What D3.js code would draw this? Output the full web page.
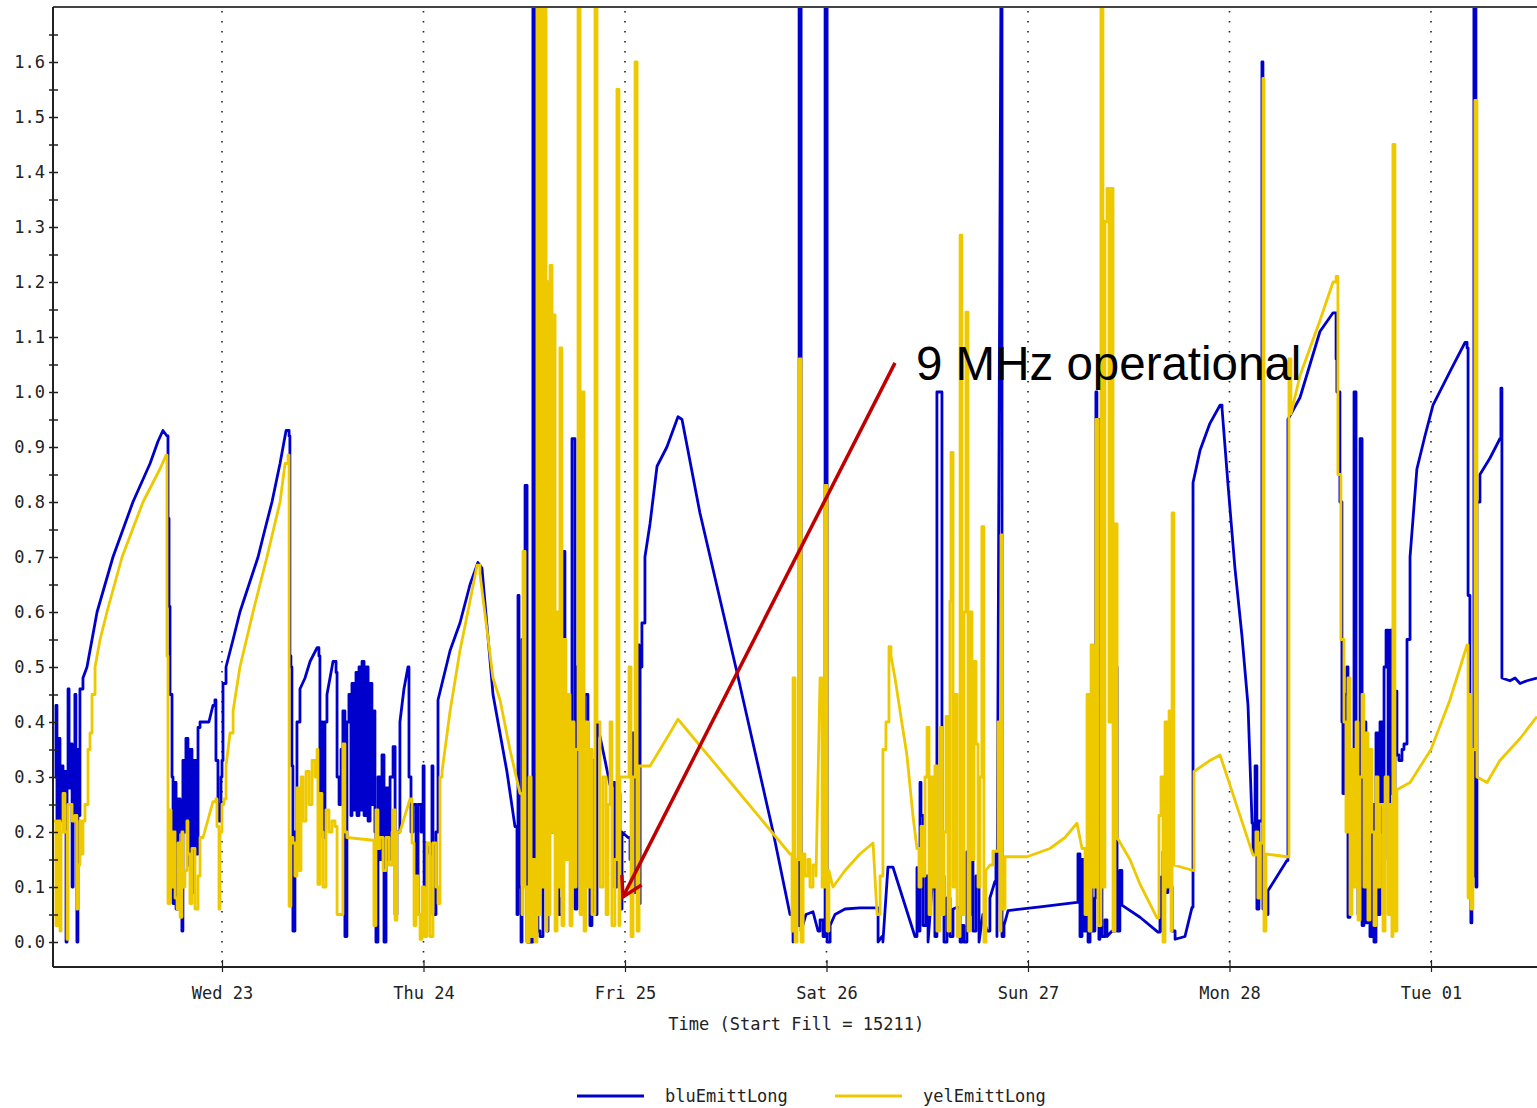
<!DOCTYPE html>
<html>
<head>
<meta charset="utf-8">
<script src="https://cdn.jsdelivr.net/npm/d3@7"></script>
<style>
  body { margin: 0; background: #fff; }
  svg text { font-family: "DejaVu Sans Mono", "Liberation Mono", monospace; }
</style>
</head>
<body>
<div id="chart"></div>
<script>
// [days since 2011-02-22 00:00 UTC, emittance]
const bluEmittLong = [
  [0.171,0.30],[0.176,0.43],[0.181,0.03],[0.186,0.37],[0.196,0.22],[0.201,0.32],[0.211,0.27],[0.216,0.31],
  [0.226,0.00],[0.231,0.30],[0.236,0.46],[0.241,0.28],[0.246,0.36],[0.256,0.10],[0.261,0.32],[0.270,0.45],
  [0.275,0.22],[0.280,0.00],[0.285,0.35],[0.290,0.23],[0.295,0.46],[0.310,0.48],[0.330,0.50],[0.380,0.60],
  [0.459,0.70],[0.558,0.80],[0.643,0.87],[0.682,0.91],[0.707,0.93],[0.727,0.92],[0.732,0.77],[0.737,0.61],
  [0.742,0.45],[0.752,0.30],[0.757,0.07],[0.767,0.29],[0.772,0.06],[0.782,0.26],[0.792,0.20],[0.801,0.02],
  [0.806,0.33],[0.816,0.20],[0.821,0.37],[0.831,0.14],[0.841,0.35],[0.851,0.09],[0.861,0.33],[0.871,0.16],
  [0.881,0.39],[0.891,0.40],[0.935,0.40],[0.955,0.43],[0.965,0.44],[0.970,0.33],[0.980,0.25],[0.985,0.22],
  [0.995,0.30],[1.000,0.33],[1.005,0.47],[1.020,0.50],[1.055,0.55],[1.089,0.60],[1.134,0.65],[1.179,0.70],
  [1.213,0.75],[1.248,0.80],[1.288,0.87],[1.318,0.93],[1.333,0.92],[1.337,0.52],[1.342,0.50],[1.347,0.32],
  [1.352,0.02],[1.362,0.20],[1.372,0.40],[1.387,0.46],[1.412,0.48],[1.437,0.51],[1.472,0.535],[1.481,0.52],
  [1.486,0.25],[1.496,0.40],[1.501,0.19],[1.511,0.40],[1.521,0.45],[1.551,0.51],[1.566,0.49],[1.571,0.30],
  [1.581,0.25],[1.591,0.35],[1.600,0.42],[1.610,0.01],[1.620,0.40],[1.630,0.45],[1.640,0.23],[1.645,0.47],
  [1.655,0.24],[1.665,0.49],[1.670,0.23],[1.680,0.50],[1.690,0.24],[1.695,0.51],[1.705,0.23],[1.715,0.50],
  [1.725,0.22],[1.735,0.47],[1.744,0.25],[1.754,0.42],[1.759,0.20],[1.764,0.00],[1.774,0.30],[1.784,0.15],
  [1.794,0.34],[1.804,0.00],[1.814,0.28],[1.824,0.15],[1.834,0.30],[1.849,0.355],[1.859,0.05],[1.868,0.20],
  [1.883,0.40],[1.903,0.46],[1.923,0.50],[1.928,0.30],[1.938,0.20],[1.948,0.25],[1.963,0.05],[1.973,0.25],
  [1.988,0.20],[1.998,0.32],[2.003,0.04],[2.012,0.18],[2.032,0.16],[2.042,0.32],[2.047,0.05],[2.062,0.20],
  [2.072,0.44],[2.092,0.47],[2.132,0.53],[2.181,0.58],[2.231,0.65],[2.270,0.69],[2.290,0.68],[2.345,0.45],
  [2.414,0.31],[2.454,0.21],[2.464,0.05],[2.469,0.63],[2.474,0.10],[2.484,0.00],[2.489,0.55],[2.494,0.15],
  [2.504,0.83],[2.514,0.00],[2.524,0.05],[2.534,0.00],[2.543,1.75],[2.553,0.05],[2.563,1.75],[2.568,0.02],
  [2.578,0.01],[2.593,1.75],[2.603,1.20],[2.613,0.02],[2.618,0.90],[2.628,0.20],[2.643,0.60],[2.653,0.34],
  [2.663,0.28],[2.672,0.05],[2.687,0.08],[2.692,0.71],[2.702,0.30],[2.712,0.42],[2.727,0.35],[2.737,0.915],
  [2.752,0.06],[2.762,0.50],[2.772,0.52],[2.787,0.30],[2.801,0.45],[2.816,0.28],[2.826,0.03],[2.836,0.33],
  [2.846,0.05],[2.861,0.40],[2.901,0.33],[2.926,0.285],[2.941,0.29],[2.950,0.10],[2.960,0.27],[2.975,0.06],
  [2.985,0.20],[3.015,0.19],[3.025,0.15],[3.035,0.38],[3.045,0.09],[3.060,0.54],[3.070,0.07],[3.075,0.50],
  [3.084,0.58],[3.099,0.70],[3.124,0.76],[3.159,0.865],[3.208,0.90],[3.263,0.955],[3.283,0.95],[3.372,0.78],
  [3.556,0.49],[3.735,0.20],[3.819,0.05],[3.834,0.00],[3.854,0.03],[3.864,1.75],[3.874,0.02],[3.898,0.05],
  [3.933,0.055],[3.958,0.02],[3.968,0.04],[3.983,0.01],[3.993,1.75],[4.003,0.00],[4.018,0.03],[4.042,0.05],
  [4.092,0.06],[4.166,0.062],[4.251,0.062],[4.256,0.00],[4.275,0.01],[4.280,0.00],[4.305,0.136],[4.330,0.136],
  [4.439,0.01],[4.449,0.135],[4.454,0.02],[4.464,0.29],[4.469,0.23],[4.479,0.03],[4.494,0.12],[4.504,0.00],
  [4.524,0.10],[4.538,0.01],[4.548,1.00],[4.568,1.00],[4.573,0.12],[4.583,0.00],[4.598,0.08],[4.613,0.01],
  [4.628,0.06],[4.648,0.063],[4.663,0.00],[4.672,0.03],[4.682,0.00],[4.697,0.164],[4.707,0.05],[4.717,0.15],
  [4.727,0.02],[4.742,0.12],[4.757,0.00],[4.776,0.05],[4.796,0.02],[4.811,0.08],[4.836,0.11],[4.841,0.164],
  [4.846,0.01],[4.866,1.75],[4.871,0.01],[4.881,0.03],[4.901,0.057],[5.060,0.064],[5.243,0.072],[5.248,0.16],
  [5.258,0.01],[5.268,0.15],[5.278,0.02],[5.288,0.164],[5.298,0.00],[5.308,0.12],[5.318,0.02],[5.332,0.08],
  [5.337,1.00],[5.342,0.95],[5.352,0.005],[5.357,0.78],[5.362,0.62],[5.367,0.01],[5.382,0.04],[5.392,0.01],
  [5.417,0.02],[5.432,0.14],[5.437,0.50],[5.442,0.02],[5.456,0.13],[5.466,0.067],[5.556,0.045],[5.645,0.018],
  [5.655,0.118],[5.665,0.02],[5.670,0.164],[5.680,0.09],[5.695,0.15],[5.705,0.10],[5.715,0.02],[5.730,0.005],
  [5.779,0.01],[5.814,0.063],[5.819,0.835],[5.854,0.894],[5.903,0.943],[5.953,0.976],[5.963,0.97],[5.993,0.83],
  [6.027,0.68],[6.062,0.556],[6.092,0.43],[6.112,0.216],[6.117,0.16],[6.127,0.32],[6.136,0.06],[6.146,0.22],
  [6.161,1.60],[6.166,0.06],[6.181,0.05],[6.191,0.093],[6.285,0.148],[6.290,0.95],[6.350,0.99],[6.449,1.11],
  [6.514,1.144],[6.529,1.06],[6.533,1.00],[6.548,0.80],[6.558,0.40],[6.563,0.27],[6.573,0.45],[6.583,0.50],
  [6.588,0.045],[6.598,0.35],[6.608,0.20],[6.618,1.00],[6.628,0.25],[6.638,0.05],[6.648,0.915],[6.658,0.03],
  [6.667,0.40],[6.677,0.035],[6.687,0.30],[6.697,0.01],[6.707,0.25],[6.717,0.00],[6.727,0.38],[6.737,0.05],
  [6.747,0.40],[6.757,0.20],[6.767,0.50],[6.777,0.567],[6.787,0.15],[6.796,0.567],[6.806,0.27],[6.821,0.456],
  [6.831,0.34],[6.841,0.33],[6.856,0.35],[6.866,0.36],[6.881,0.55],[6.896,0.70],[6.930,0.86],[6.970,0.92],
  [7.010,0.976],[7.094,1.037],[7.169,1.09],[7.179,1.08],[7.184,0.63],[7.193,0.30],[7.198,0.035],[7.203,0.12],
  [7.213,1.75],[7.223,0.10],[7.228,0.80],[7.243,0.85],[7.293,0.88],[7.342,0.915],[7.347,1.007],[7.352,0.48],
  [7.392,0.475],[7.417,0.48],[7.442,0.47],[7.476,0.475],[7.526,0.48]
];

const yelEmittLong = [
  [0.161,0.22],[0.171,0.22],[0.176,0.03],[0.186,0.22],[0.196,0.02],[0.201,0.20],[0.211,0.27],[0.221,0.20],
  [0.231,0.005],[0.236,0.25],[0.246,0.25],[0.256,0.22],[0.270,0.23],[0.280,0.06],[0.285,0.14],[0.295,0.22],
  [0.305,0.16],[0.310,0.22],[0.320,0.25],[0.335,0.35],[0.345,0.38],[0.355,0.45],[0.370,0.50],[0.395,0.55],
  [0.429,0.60],[0.504,0.70],[0.608,0.80],[0.692,0.86],[0.722,0.885],[0.727,0.52],[0.732,0.07],[0.742,0.24],
  [0.747,0.10],[0.757,0.20],[0.767,0.08],[0.777,0.06],[0.782,0.18],[0.792,0.045],[0.801,0.20],[0.806,0.10],
  [0.816,0.13],[0.826,0.22],[0.831,0.16],[0.841,0.07],[0.851,0.17],[0.866,0.06],[0.881,0.12],[0.891,0.19],
  [0.906,0.19],[0.955,0.255],[0.970,0.26],[0.975,0.21],[0.985,0.06],[0.990,0.20],[1.000,0.25],[1.010,0.26],
  [1.020,0.32],[1.040,0.38],[1.055,0.42],[1.089,0.50],[1.154,0.60],[1.223,0.70],[1.288,0.80],[1.313,0.87],
  [1.328,0.885],[1.333,0.065],[1.342,0.19],[1.352,0.18],[1.362,0.12],[1.372,0.28],[1.382,0.13],[1.392,0.30],
  [1.402,0.22],[1.417,0.31],[1.432,0.25],[1.447,0.33],[1.462,0.30],[1.472,0.35],[1.476,0.105],[1.486,0.27],
  [1.496,0.20],[1.501,0.10],[1.516,0.24],[1.531,0.20],[1.546,0.22],[1.561,0.21],[1.571,0.05],[1.586,0.05],
  [1.600,0.36],[1.610,0.20],[1.620,0.19],[1.749,0.185],[1.754,0.03],[1.764,0.24],[1.774,0.17],[1.784,0.19],
  [1.799,0.13],[1.814,0.19],[1.829,0.14],[1.844,0.20],[1.849,0.24],[1.859,0.04],[1.868,0.20],[1.883,0.20],
  [1.908,0.23],[1.933,0.26],[1.943,0.18],[1.953,0.03],[1.963,0.12],[1.973,0.05],[1.983,0.005],[1.993,0.10],
  [2.003,0.01],[2.017,0.18],[2.032,0.01],[2.047,0.18],[2.062,0.10],[2.072,0.07],[2.082,0.30],[2.092,0.31],
  [2.132,0.42],[2.181,0.53],[2.231,0.62],[2.266,0.685],[2.280,0.67],[2.345,0.48],[2.380,0.44],[2.429,0.35],
  [2.479,0.27],[2.489,0.05],[2.494,0.71],[2.504,0.10],[2.514,0.00],[2.524,0.30],[2.534,0.01],[2.543,0.15],
  [2.553,0.00],[2.563,1.75],[2.568,0.05],[2.578,1.75],[2.588,0.10],[2.598,1.75],[2.608,0.02],[2.613,1.20],
  [2.623,0.05],[2.628,1.23],[2.638,0.20],[2.643,1.14],[2.653,0.02],[2.663,0.60],[2.672,0.10],[2.677,1.08],
  [2.687,0.03],[2.697,0.55],[2.707,0.15],[2.717,0.45],[2.727,0.03],[2.737,0.40],[2.747,0.10],[2.757,0.35],
  [2.767,1.75],[2.777,0.05],[2.787,1.00],[2.797,0.02],[2.806,0.40],[2.816,0.10],[2.826,0.35],[2.836,0.05],
  [2.851,1.75],[2.861,0.40],[2.876,0.10],[2.891,0.30],[2.906,0.05],[2.916,0.25],[2.926,0.40],[2.935,0.03],
  [2.950,0.15],[2.960,1.55],[2.970,0.03],[2.975,0.30],[3.015,0.30],[3.020,0.50],[3.030,0.01],[3.040,0.30],
  [3.050,1.60],[3.060,0.02],[3.070,0.32],[3.124,0.32],[3.174,0.35],[3.223,0.38],[3.263,0.405],[3.536,0.285],
  [3.819,0.16],[3.829,0.02],[3.834,0.48],[3.844,0.00],[3.854,0.15],[3.864,1.06],[3.874,0.00],[3.884,0.16],
  [3.893,0.12],[3.908,0.15],[3.918,0.10],[3.933,0.14],[3.948,0.12],[3.968,0.48],[3.978,0.10],[3.993,0.83],
  [4.003,0.02],[4.012,0.13],[4.032,0.10],[4.092,0.13],[4.166,0.16],[4.231,0.18],[4.251,0.05],[4.266,0.12],
  [4.280,0.35],[4.295,0.40],[4.310,0.537],[4.320,0.52],[4.340,0.48],[4.365,0.42],[4.399,0.34],[4.429,0.23],
  [4.449,0.17],[4.459,0.10],[4.469,0.21],[4.479,0.12],[4.489,0.30],[4.499,0.39],[4.509,0.05],[4.519,0.30],
  [4.529,0.10],[4.538,0.32],[4.548,0.02],[4.563,0.39],[4.573,0.05],[4.583,0.20],[4.593,0.41],[4.603,0.02],
  [4.613,0.62],[4.618,0.89],[4.628,0.10],[4.638,0.45],[4.648,0.01],[4.663,1.285],[4.672,0.05],[4.682,0.60],
  [4.692,1.145],[4.702,0.02],[4.712,0.60],[4.722,0.15],[4.732,0.51],[4.742,0.36],[4.752,0.10],[4.762,0.30],
  [4.771,0.755],[4.781,0.00],[4.791,0.13],[4.811,0.14],[4.826,0.165],[4.841,0.165],[4.851,0.40],[4.861,0.02],
  [4.866,0.74],[4.871,0.06],[4.886,0.155],[4.995,0.155],[5.109,0.17],[5.184,0.19],[5.243,0.216],[5.268,0.17],
  [5.283,0.05],[5.293,0.45],[5.303,0.02],[5.313,0.54],[5.323,0.10],[5.337,0.95],[5.347,0.03],[5.362,1.75],
  [5.372,0.10],[5.382,1.31],[5.392,1.37],[5.402,0.40],[5.412,1.37],[5.422,0.02],[5.432,0.76],[5.442,0.19],
  [5.506,0.15],[5.556,0.105],[5.640,0.044],[5.650,0.23],[5.660,0.30],[5.670,0.00],[5.680,0.40],[5.690,0.10],
  [5.700,0.42],[5.710,0.02],[5.715,0.78],[5.724,0.14],[5.819,0.13],[5.824,0.31],[5.903,0.33],[5.953,0.34],
  [6.117,0.158],[6.131,0.20],[6.141,0.08],[6.151,0.18],[6.166,1.57],[6.171,0.02],[6.181,0.16],[6.285,0.155],
  [6.295,1.06],[6.305,0.96],[6.350,1.03],[6.449,1.13],[6.514,1.20],[6.529,1.21],[6.538,0.85],[6.553,0.55],
  [6.568,0.40],[6.578,0.20],[6.588,0.48],[6.598,0.05],[6.608,0.35],[6.618,0.10],[6.628,0.40],[6.638,0.04],
  [6.648,0.30],[6.658,0.45],[6.667,0.10],[6.677,0.38],[6.687,0.04],[6.697,0.35],[6.707,0.20],[6.717,0.03],
  [6.727,0.30],[6.737,0.10],[6.747,0.25],[6.762,0.02],[6.772,0.30],[6.787,0.05],[6.796,0.25],[6.806,0.01],
  [6.811,1.45],[6.821,0.02],[6.831,0.277],[6.896,0.29],[7.000,0.35],[7.094,0.44],[7.179,0.54],[7.184,0.08],
  [7.193,0.45],[7.198,0.06],[7.208,0.35],[7.218,1.53],[7.228,0.30],[7.278,0.29],[7.342,0.33],[7.442,0.37],
  [7.526,0.41]
];

const seriesNames = ["bluEmittLong", "yelEmittLong"];
const seriesColors = ["#0000cc", "#eec900"];
const xAxisTitle = "Time (Start Fill = 15211)";
const timeRange = [0.1613, 7.5261];     // days since 2011-02-22
const valueRange = [-0.04545, 1.7];
const noteText = "9 MHz operational";
const noteTail = [4.340, 1.053];
const noteTip = [2.990, 0.082];
const noteAt = [4.444, 1.022];

const width = 1537, height = 1108;
const plot = { left: 53, right: 1537, top: 7, bottom: 967 };

const day0 = Date.UTC(2011, 1, 22);
const toDate = d => new Date(day0 + d * 864e5);

const x = d3.scaleUtc().domain(timeRange.map(toDate)).range([plot.left, plot.right]);
const y = d3.scaleLinear().domain(valueRange).range([plot.bottom, plot.top]);

const svg = d3.select("#chart").append("svg")
    .attr("width", width)
    .attr("height", height)
    .style("display", "block")
    .style("background", "#fff");

svg.append("defs").append("clipPath").attr("id", "plot-clip")
    .append("rect")
    .attr("x", plot.left).attr("y", plot.top)
    .attr("width", plot.right - plot.left).attr("height", plot.bottom - plot.top);

// dotted day gridlines
const days = d3.utcDay.range(toDate(timeRange[0]), toDate(timeRange[1]));
svg.append("g")
    .selectAll("line")
    .data(days)
    .join("line")
    .attr("x1", d => x(d)).attr("x2", d => x(d))
    .attr("y1", plot.top + 4).attr("y2", plot.bottom)
    .attr("stroke", "#222")
    .attr("stroke-width", 1.6)
    .attr("stroke-dasharray", "1.6 8.4");

// samples close together are drawn as steps, like the logger plot does
function stepped(s) {
    const out = [];
    s.forEach((d, i) => {
        out.push(d);
        const n = s[i + 1];
        if (n && n[0] - d[0] < 0.016) out.push([n[0], d[1]]);
    });
    return out;
}

const line = d3.line()
    .x(d => x(toDate(d[0])))
    .y(d => y(d[1]));

// the two series, yellow drawn on top
const lines = svg.append("g").attr("clip-path", "url(#plot-clip)");
[bluEmittLong, yelEmittLong].forEach((s, i) => {
    lines.append("path")
        .attr("d", line(stepped(s)))
        .attr("fill", "none")
        .attr("stroke", seriesColors[i])
        .attr("stroke-width", 2.8)
        .attr("stroke-linejoin", "round");
});

// frame lines
svg.append("line")
    .attr("x1", plot.left).attr("x2", plot.right)
    .attr("y1", plot.top).attr("y2", plot.top)
    .attr("stroke", "#444").attr("stroke-width", 2);
svg.append("line")
    .attr("x1", plot.left).attr("x2", plot.right)
    .attr("y1", plot.bottom).attr("y2", plot.bottom)
    .attr("stroke", "#222").attr("stroke-width", 2);
svg.append("line")
    .attr("x1", plot.left).attr("x2", plot.left)
    .attr("y1", plot.top).attr("y2", plot.bottom)
    .attr("stroke", "#222").attr("stroke-width", 2);

// y axis: ticks every 0.05, labels every 0.1
const yAxis = d3.axisLeft(y)
    .tickValues(d3.range(0, 1.66, 0.05))
    .tickSize(5)
    .tickPadding(3)
    .tickFormat(d => Math.round(d * 20) % 2 ? "" : d3.format(".1f")(d));

const gy = svg.append("g")
    .attr("transform", `translate(${plot.left},0)`)
    .call(yAxis);
gy.select(".domain").remove();
gy.selectAll(".tick line")
    .attr("x1", 5).attr("x2", -4)
    .attr("stroke", "#222").attr("stroke-width", 1.5);
gy.selectAll(".tick text")
    .attr("font-size", 17)
    .attr("font-family", "DejaVu Sans Mono, monospace")
    .attr("fill", "#222");

// x axis: one tick per day
const xAxis = d3.axisBottom(x)
    .tickValues(days)
    .tickFormat(d3.utcFormat("%a %d"))
    .tickSize(5);

const gx = svg.append("g")
    .attr("transform", `translate(0,${plot.bottom})`)
    .call(xAxis);
gx.select(".domain").remove();
gx.selectAll(".tick line")
    .attr("y1", -7).attr("y2", 5)
    .attr("stroke", "#222").attr("stroke-width", 1.2);
gx.selectAll(".tick text")
    .attr("y", 32).attr("dy", 0)
    .attr("font-size", 17)
    .attr("font-family", "DejaVu Sans Mono, monospace")
    .attr("fill", "#222");

svg.append("text")
    .attr("x", (x(toDate(3.5)) + x(toDate(4.2))) / 2)
    .attr("y", 1030)
    .attr("text-anchor", "middle")
    .attr("font-size", 17)
    .attr("fill", "#222")
    .text(xAxisTitle);

// legend
const legendX = [577, 835];
seriesNames.forEach((name, i) => {
    svg.append("line")
        .attr("x1", legendX[i]).attr("x2", legendX[i] + 67)
        .attr("y1", 1096).attr("y2", 1096)
        .attr("stroke", seriesColors[i]).attr("stroke-width", 3);
    svg.append("text")
        .attr("x", legendX[i] + 88).attr("y", 1102)
        .attr("font-size", 17)
        .attr("fill", "#222")
        .text(name);
});

// annotation arrow
const tail = [x(toDate(noteTail[0])), y(noteTail[1])];
const tip = [x(toDate(noteTip[0])), y(noteTip[1])];
const back = Math.atan2(tail[1] - tip[1], tail[0] - tip[0]);
const headLen = 22, headAng = Math.PI / 6;
const arm = a => [tip[0] + headLen * Math.cos(back + a), tip[1] + headLen * Math.sin(back + a)];

svg.append("line")
    .attr("x1", tail[0]).attr("y1", tail[1])
    .attr("x2", tip[0]).attr("y2", tip[1])
    .attr("stroke", "#c00000").attr("stroke-width", 3.5);
svg.append("path")
    .attr("d", d3.line()([arm(headAng), tip, arm(-headAng)]))
    .attr("fill", "none")
    .attr("stroke", "#c00000").attr("stroke-width", 3.5)
    .attr("stroke-linejoin", "miter");

svg.append("text")
    .attr("x", x(toDate(noteAt[0])))
    .attr("y", y(noteAt[1]))
    .style("font-family", "'Liberation Sans', Arial, sans-serif")
    .attr("font-size", 47.5)
    .attr("fill", "#000")
    .text(noteText);
</script>
</body>
</html>
